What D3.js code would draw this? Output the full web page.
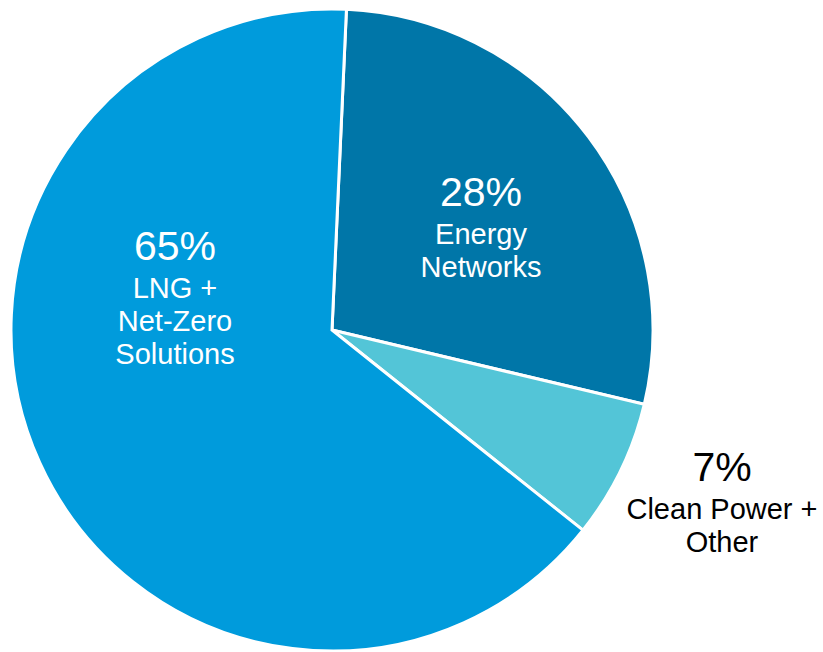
<!DOCTYPE html>
<html>
<head>
<meta charset="utf-8">
<script src="https://cdn.jsdelivr.net/npm/d3@7"></script>
<style>
  html, body { margin: 0; padding: 0; background: #ffffff; }
  svg { display: block; }
  text { font-family: "Liberation Sans", Arial, sans-serif; }
</style>
</head>
<body>
<svg id="chart" width="823" height="652"></svg>
<script>
// Segment shares (percent), drawn clockwise from 12 o'clock
const segments = ["Energy Networks", "Clean Power + Other", "LNG + Net-Zero Solutions"];
const shares = [28, 7, 65];
const colors = ["#0076a8", "#53c5d7", "#009bdc"];
// Label text per segment: percent line followed by name lines
const nameLines = [["Energy", "Networks"], ["Clean Power +", "Other"], ["LNG +", "Net-Zero", "Solutions"]];
const labelColors = ["#ffffff", "#000000", "#ffffff"];
// Label block anchor (offset from the pie centre)
const labelOffsets = [[149, -138], [390, 137], [-157, -84]];

const width = 823, height = 652;
const cx = 332, cy = 330, radius = 321;
const startAngle = 0.045;

const svg = d3.select("#chart");
const g = svg.append("g").attr("transform", `translate(${cx},${cy})`);

const pie = d3.pie()
  .sort(null)
  .value(d => d)
  .startAngle(startAngle)
  .endAngle(startAngle + 2 * Math.PI);

const arcs = pie(shares);
const arc = d3.arc().innerRadius(0).outerRadius(radius);

g.selectAll("path.slice")
  .data(arcs)
  .join("path")
  .attr("class", "slice")
  .attr("d", arc)
  .attr("fill", (d, i) => colors[i])
  .attr("stroke", "#ffffff")
  .attr("stroke-width", 3)
  .attr("stroke-linejoin", "miter");

// Labels
arcs.forEach((d, i) => {
  const [ox, oy] = labelOffsets[i];
  const lg = g.append("g").attr("transform", `translate(${ox},${oy})`);
  lg.append("text")
    .attr("text-anchor", "middle")
    .attr("dominant-baseline", "central")
    .attr("y", 0)
    .attr("font-size", 41)
    .attr("fill", labelColors[i])
    .text(shares[i] + "%");
  nameLines[i].forEach((line, j) => {
    lg.append("text")
      .attr("text-anchor", "middle")
      .attr("dominant-baseline", "central")
      .attr("y", 42 + j * 33)
      .attr("font-size", 29)
      .attr("fill", labelColors[i])
      .text(line);
  });
});
</script>
</body>
</html>
